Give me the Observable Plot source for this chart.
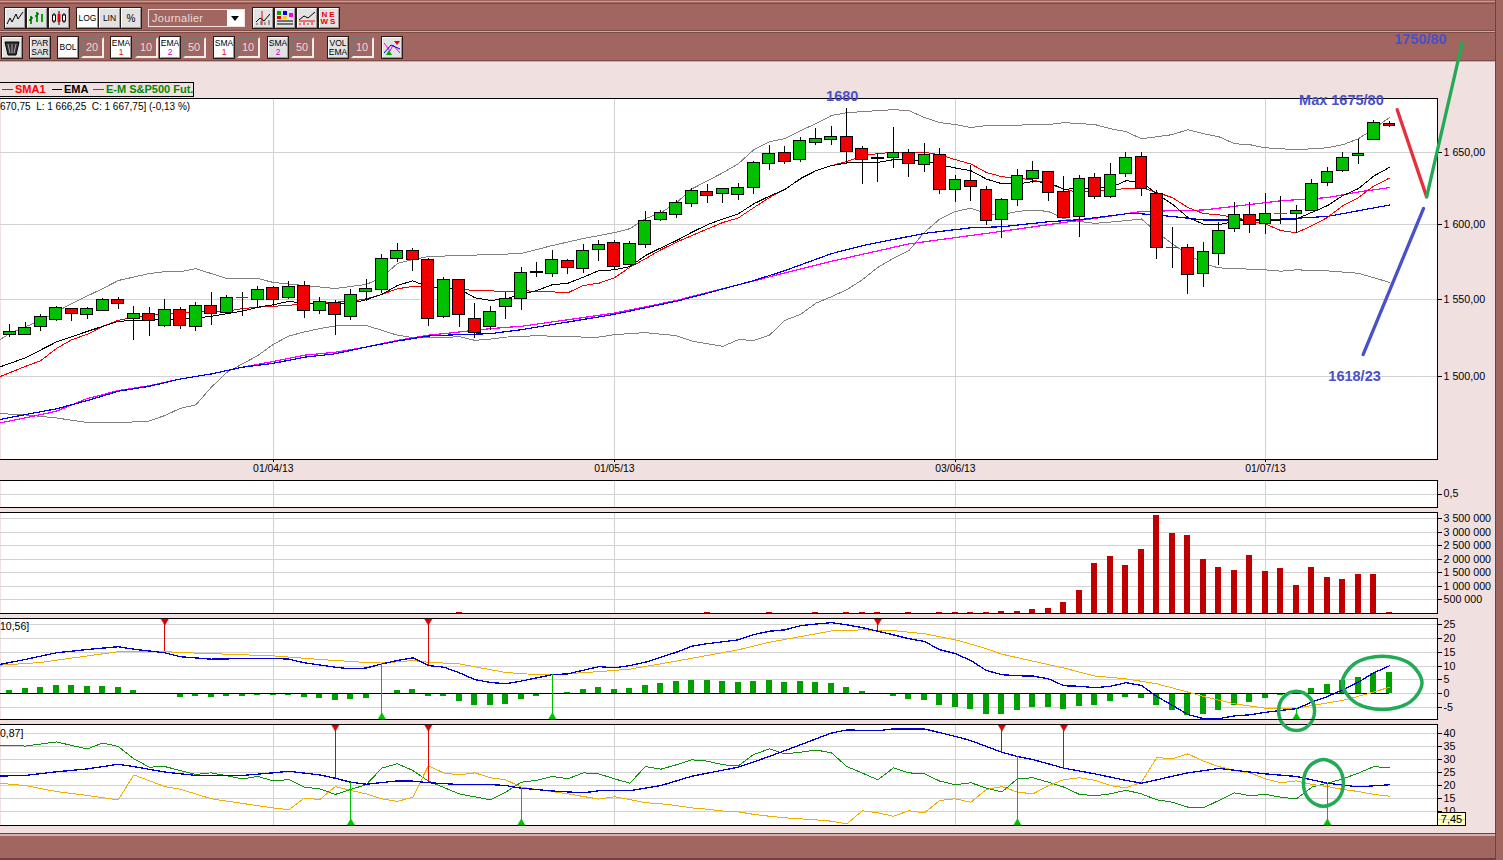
<!DOCTYPE html>
<html><head><meta charset="utf-8">
<script src="https://cdn.jsdelivr.net/npm/d3@7"></script>
<script src="https://cdn.jsdelivr.net/npm/@observablehq/plot@0.6"></script>
<style>
html,body{margin:0;padding:0;width:1503px;height:860px;overflow:hidden;background:#f0e0e0;font-family:"Liberation Sans",sans-serif}
#root{position:relative;width:1503px;height:860px;overflow:hidden}
.abs{position:absolute}
.bar{position:absolute;left:0;width:1503px;background:#a0665f}
.btn{position:absolute;box-sizing:border-box;background:#e2e2e2;border:1px solid;border-color:#fff #999 #999 #fff;outline:1px solid #2a1a18;font-size:8.5px;line-height:9px;text-align:center;color:#000;display:flex;flex-direction:column;align-items:center;justify-content:center;overflow:hidden}
.btn.w{background:#fff}
.inp{position:absolute;box-sizing:border-box;background:#a0665f;border:2px solid;border-color:#777 #eee #eee #777;color:#e6dcdc;font-size:11px;line-height:17px;padding-left:3px}
svg.plot{overflow:visible}
</style></head><body><div id="root"></div>
<script>
// ---------- Data: trading-day index i runs from -1 to 89 ----------
const dateIdx=[17,39,61,81];
const dateLabels=["01/04/13","01/05/13","03/06/13","01/07/13"];
const priceTicks=[1500,1550,1600,1650];
const oscTicks=[0.5];
const volTicks=[500000,1000000,1500000,2000000,2500000,3000000,3500000];
const macdTicks=[-5,0,5,10,15,20,25];
const dmiTicks=[10,15,20,25,30,35,40];

const opens=[1515,1526.7,1526.7,1531.8,1536.4,1543.8,1539.8,1542.5,1549.7,1537,1540.2,1532.5,1543.2,1531.8,1545.8,1541.2,1551,1549.7,1557.6,1550.8,1559,1542.5,1547.7,1538.6,1555,1556.3,1577,1582.2,1576.2,1538.4,1562.9,1537.3,1531.8,1544.9,1550.3,1567.6,1567,1575.5,1570.1,1582.9,1587.5,1572.8,1586.3,1603.1,1606.6,1613.9,1622.1,1620.8,1620,1624.9,1641.7,1649.4,1644.5,1656.4,1658.2,1660.6,1652.2,1645.2,1645.6,1649.4,1641,1648,1623.5,1629.8,1623.5,1603.1,1616.7,1631.2,1636.1,1622.3,1605.1,1631.9,1618.7,1634.7,1646.6,1620.8,1584.2,1584.2,1567,1580,1597,1606.6,1600.4,1607.3,1607.3,1609.2,1628.4,1636.8,1647.3,1658.5,1670];
const highs=[1525,1533.2,1534.9,1540.1,1545.4,1543.8,1544.5,1550.3,1551,1545,1544.5,1549.7,1544.5,1547.9,1554.5,1552.2,1554.5,1558.5,1558.5,1561.7,1561.7,1551,1549.2,1556.4,1562.9,1579.7,1587.2,1583.7,1577,1564.2,1562.9,1547,1545.4,1554.6,1570.8,1574.4,1582.2,1576.2,1586.3,1589.1,1589.1,1588.2,1608.7,1609.4,1616.2,1624.6,1627.4,1624.2,1627.9,1643.1,1654.5,1653.8,1660.6,1666.3,1667.9,1680.6,1653.8,1648.7,1667.2,1651.5,1655.7,1652.2,1633.4,1640.3,1626.3,1618,1638.1,1643.3,1636.8,1632.8,1634,1635.4,1641.7,1649.6,1649.6,1623.1,1597.9,1586.3,1587.6,1601.4,1614.8,1614.8,1621.2,1619.2,1613.3,1631.2,1639.5,1649.4,1659.2,1672,1671.4];
const lows=[1515,1525.3,1526.7,1529,1535.6,1535.6,1536.9,1542.5,1543.4,1523.2,1525.8,1531.8,1530.3,1528.6,1533,1540.2,1538.8,1544.5,1545,1549.7,1537.7,1540.1,1526.5,1536.2,1548.3,1553.6,1574.2,1568.3,1532.3,1537.7,1531.6,1524.7,1529.7,1537,1542.7,1564.6,1564.6,1566.4,1567.2,1575.2,1569,1572.4,1583.9,1602.1,1604.3,1611.6,1614.3,1614.3,1616.4,1620.8,1637,1641.4,1642.8,1654.5,1654.5,1641.7,1627.2,1628.9,1638.6,1632.3,1635.8,1620.5,1615,1615.7,1599.5,1590.7,1612,1628.4,1615.5,1603.8,1591.4,1617.1,1618,1632.3,1619.4,1576.6,1570.5,1553.4,1558,1572.6,1594.7,1594,1593.3,1600.2,1594,1608.6,1626.3,1635.8,1641.4,1657.8,1667];
const closes=[1525,1528.4,1531.5,1538.6,1544.5,1540.3,1543.8,1549.7,1546.8,1540.2,1536,1543.2,1532.5,1545.8,1540.2,1551,1551,1556.3,1549.7,1558.3,1542.5,1548.3,1539.9,1553,1556.9,1577,1582.2,1576.2,1537.3,1562.9,1539.9,1528.2,1541.8,1549.9,1567.5,1567.9,1576.2,1570.5,1582.2,1586.3,1571.5,1586.9,1602.4,1607.9,1614.6,1622.8,1619.4,1624.2,1624.9,1642.4,1648.7,1643.1,1657.8,1659.2,1660.6,1650.1,1644.5,1645.6,1649.4,1641.7,1648,1623.5,1630.5,1625.6,1602.4,1616.7,1633.3,1636.8,1621.6,1604.2,1631.2,1618.7,1634,1645.9,1624.2,1584.2,1584.2,1566.2,1581.5,1595.7,1606.6,1599.7,1607.3,1607.3,1609.2,1627.9,1636.1,1645.9,1648.7,1670.7,1668.5];
const redDoji=[15,75];

const bbUpIdx=[-1,0,2,4,6,7,9,10,11,12,14,16,17,19,21,23,24,25,26,27,31,33,35,37,39,40,41,42,43,44,45,46,47,48,49,50,51,52,53,54,57,58,59,60,61,62,63,67,68,70,71,72,73,74,75,76,77,78,79,80,81,83,85,86,87,88,89];
const bbUpVal=[1521.3,1527.7,1536.2,1547.2,1557.1,1562.4,1567,1568.3,1568.3,1570.3,1563.7,1563.7,1561.1,1559.1,1557.1,1559.8,1564.4,1573.7,1576.4,1578.4,1579.7,1580.4,1585.8,1590.5,1594.5,1597.2,1604,1608,1614.8,1624.4,1630,1635.6,1641.9,1651.7,1657.3,1659.4,1665.1,1670,1675.8,1677.9,1680,1679.3,1674.4,1670.8,1669.4,1667.3,1668.7,1669.4,1670.8,1669.4,1666.5,1664.4,1659.4,1660.8,1662.3,1665.8,1663,1660.8,1655.9,1655.2,1653,1651.7,1653,1655.2,1659.4,1666.5,1674.4];
const bbLowIdx=[-1,1,3,5,7,9,10,11,12,13,14,15,16,17,18,19,20,21,23,24,25,26,28,29,30,31,32,34,37,38,39,41,43,44,46,47,48,49,50,51,52,53,54,55,56,57,58,59,60,61,62,63,64,65,66,67,68,69,70,71,72,73,74,75,76,77,78,81,82,83,85,87,89];
const bbLowVal=[1476.7,1475.7,1473.8,1470.9,1470.7,1471.9,1475.3,1479.8,1482,1493.1,1502.6,1508,1513.4,1520.6,1526,1528.6,1530.8,1532.5,1532.8,1529.7,1526.5,1525,1525,1525.6,1523.2,1524,1525.3,1526.2,1525.3,1525.3,1526.9,1528.2,1526.2,1522.7,1519.3,1523.6,1523.2,1526.5,1536.2,1540,1547.4,1551.7,1556.3,1562.9,1571.2,1577.2,1582.4,1594.7,1603.8,1608.9,1611.1,1607.5,1606.6,1608.9,1609.9,1608.9,1604,1602.1,1600.8,1601.7,1602.6,1603.8,1594.7,1586.9,1580,1573.5,1570.8,1569.5,1568.6,1569.5,1568.8,1567.2,1561.2];
const emaIdx=[-1,1,3,5,6,7,8,10,12,13,15,16,17,18,19,21,22,23,24,25,26,27,29,30,31,32,33,34,35,36,37,38,39,40,41,42,43,44,45,46,47,48,49,50,51,52,53,54,55,56,57,58,59,60,61,62,63,64,65,66,67,68,69,70,71,72,73,74,75,76,77,78,79,80,81,82,83,84,85,86,87,88,89];
const emaVal=[1504.8,1511.9,1522.1,1529,1532.3,1535.6,1536,1536.7,1537.7,1538.8,1542.2,1544.8,1546.4,1548.6,1547.4,1547,1547.4,1549.7,1553.2,1559.1,1562.2,1558,1556.9,1551,1549.2,1550.3,1553.2,1555.8,1559.6,1560.6,1564.6,1569,1569.5,1571.7,1579,1584.2,1589.1,1594.7,1599.9,1603.8,1607.3,1614.2,1619.4,1624,1631.5,1637,1640.5,1642.4,1642.4,1642.8,1644.7,1644.7,1644,1641.2,1638.9,1637,1631.2,1628,1627.7,1629.5,1628.8,1624.2,1624.6,1624.9,1625.3,1630,1629.3,1620.8,1613.9,1604.8,1600.3,1599.9,1602.1,1603.1,1602.6,1603.1,1603.8,1608.3,1612.9,1619.8,1624.6,1633.4,1639.3];
const sma1Idx=[-1,1,2,3,4,5,6,7,8,9,13,14,15,16,18,19,21,22,23,24,25,26,27,29,30,31,32,33,34,35,36,37,38,39,40,41,42,43,44,45,46,47,48,49,50,51,52,53,54,55,56,57,59,60,61,62,63,64,65,66,67,68,69,70,71,72,73,74,75,76,77,78,79,80,81,82,83,84,85,86,87,88,89];
const sma1Val=[1498.4,1506.4,1510.1,1517.9,1523.6,1527.1,1532.3,1536.2,1538.3,1539.4,1542.2,1542.2,1543.8,1544.8,1546,1547,1548.1,1548.7,1550.3,1553.2,1556.9,1558.5,1558,1556.9,1555.6,1555.6,1554.9,1555.8,1555.1,1554.9,1554.3,1559.1,1560.6,1564.2,1571.2,1576.9,1582.9,1588,1592.5,1597,1601.4,1604.5,1611.6,1618.4,1624.2,1631.2,1637,1640.5,1643.5,1647.3,1649,1649.8,1649.8,1648.2,1644.7,1641.7,1635.8,1632.8,1631.9,1630.5,1628.1,1624.2,1621.9,1623,1623.7,1624.6,1625.3,1621.9,1618.4,1611.6,1607.5,1606.6,1604.8,1602.6,1600.3,1595.9,1594.4,1599.2,1604.8,1612.9,1618.4,1626.4,1631.9];
const ema2Idx=[-1,1,3,5,7,9,11,13,15,17,19,21,23,25,27,29,31,33,39,43,45,48,50,53,55,59,62,64,67,69,72,73,75,77,81,85,87,89];
const ema2Val=[1472.1,1475.9,1479.5,1484.7,1490.6,1493.7,1498.4,1501.6,1505.9,1508.4,1512.3,1514.5,1518.9,1522.7,1526,1526.9,1527.5,1530.1,1540.1,1548.7,1554,1562.4,1569,1580.3,1585.7,1594,1597.8,1598.5,1601.9,1603.3,1607.3,1607.3,1605.5,1603.1,1603.1,1605.5,1609.4,1613.3];
const sma2Idx=[-1,1,3,5,7,9,11,13,15,17,19,21,23,25,27,29,31,33,39,43,45,48,53,58,64,68,70,73,77,82,85,87,89];
const sma2Val=[1470,1473.8,1478,1486,1491,1494.1,1498.4,1501.6,1505.9,1509.6,1513.6,1515.5,1518.9,1523.2,1526.5,1528.6,1530.8,1532.3,1540.9,1549.2,1554.5,1562.2,1575.2,1586.9,1595.4,1601.4,1604.2,1608.9,1609.9,1616.2,1618.4,1622.3,1625.3];

const volIdx=[29,45,49,52,54,55,56,58,60,61,62,63,64,65,66,67,68,69,70,71,72,73,74,75,76,77,78,79,80,81,82,83,84,85,86,87,88,89];
const volVal=[40000,30000,30000,30000,40000,40000,40000,40000,40000,40000,40000,40000,85000,85000,160000,200000,420000,860000,1860000,2120000,1790000,2380000,3640000,2970000,2870000,2010000,1710000,1600000,2160000,1570000,1680000,1050000,1710000,1340000,1270000,1450000,1450000,50000];

const histVal=[1.2,1.9,2.3,3,3,2.65,2.65,2.3,1.2,0,0,-1.3,-1,-1.3,-1,-1,-0.6,-0.6,-0.5,-1.3,-1.7,-2.4,-2,-1.7,0,1.2,1.6,-1,-1,-2.8,-4.2,-4.2,-3.9,-2,-1,0,0.5,1.6,2.3,1.6,1.9,3,3.7,4.5,4.8,4.8,4.5,4.1,4.5,4.8,4.1,4.5,4.1,3.7,2.3,0.8,0,-1,-2,-2.4,-4.2,-4.9,-5.6,-7.5,-7.5,-6,-4.9,-4.9,-5.6,-4.6,-4.2,-2.8,-1.3,-1.7,-4.2,-6,-7.8,-7.5,-6,-4.2,-3.1,-1.7,-0.6,0,1.9,3.4,4.8,5.9,7.3,7.7];
const macdIdx=[-1,1,3,5,7,8,10,11,13,15,17,18,19,21,22,23,24,25,26,27,28,29,30,31,32,33,35,36,38,39,40,41,43,44,45,47,48,49,50,51,52,53,54,55,56,57,58,59,60,61,62,63,64,65,66,67,68,69,70,71,72,73,74,75,76,77,78,79,80,81,82,83,84,85,86,87,88,89];
const macdVal=[10.2,12.4,14.8,16,17,16.1,14.8,13.4,12.5,12.7,12.8,12.5,11.2,9.6,9,9.3,10.8,12,13,10.2,9.6,7.6,5.1,4.1,3.6,4.6,6.9,7.2,9.8,9.4,10.2,11.4,15,17.2,18.1,19.5,21.4,22.6,23.1,24.6,25.2,25.7,24.9,23.9,22.6,21.3,19.9,18.9,15.9,14.5,12,8.4,6.9,6.5,6.4,5.4,2.9,2.7,2.2,2.7,4,3,-1,-4.2,-7.5,-9,-9,-8,-7.6,-6.7,-6,-5.4,-3,-1,1.4,4.2,7.6,10.1];
const signalIdx=[-1,2,4,7,10,12,17,20,23,24,26,27,29,31,32,34,35,38,40,43,47,49,53,55,57,59,61,63,64,68,70,72,74,76,77,79,81,83,86,88,89];
const signalVal=[10.2,11.3,12.9,15.2,15.2,14.7,13.7,12.4,11.3,11.1,12,11.4,10.8,8.7,7.7,6.9,6.9,8,8.9,11.8,15.9,18.6,22.7,23.1,22.8,21.7,19.5,16.3,14.3,9.3,6.4,5.4,3.6,0.6,-1,-3.6,-5.2,-5.2,-2.4,0.6,2.4];
const macdSellIdx=[10,27,56];
const macdSellVal=[15.1,10.2,22.9];
const macdBuyIdx=[24,35,83];
const macdBuyVal=[11.1,6.9,-5.2];

const diPlusIdx=[-1,1,3,5,6,7,8,9,10,12,13,15,16,17,18,19,20,21,22,23,24,25,26,27,29,31,32,33,34,35,36,37,38,39,40,41,42,43,44,45,46,47,48,49,50,51,52,53,54,55,56,57,58,59,60,61,62,63,64,65,66,67,68,69,70,71,72,73,74,75,76,77,78,79,80,81,82,83,84,85,86,87,88,89];
const diPlusVal=[35.8,35.3,36.9,34.2,36.5,35.1,30.4,27.2,27.4,24.4,25,22.7,23.6,21.9,22.4,19.5,18.8,16.7,18.6,20.5,26.8,28.5,25.9,21.8,16.9,14.6,17.6,21.4,22.1,23.6,22.7,25,24.6,22.7,21,27.4,26.4,28.1,30,29.5,28.1,27.7,32.1,34.2,32.3,32.9,33.8,32.7,27.4,24.9,22.3,26.9,25,24.6,21.8,20.4,21.2,19.1,17.6,22.7,23.1,21.4,19.5,16.7,16.2,16.9,18.3,16.9,14.6,13.7,11.8,11.5,14.4,17.3,16.2,16.7,15.6,15,19.5,21,22.7,24.9,27.4,26.9];
const diMinusIdx=[-1,1,3,5,7,8,10,11,13,14,17,18,19,20,21,22,23,24,25,26,27,28,29,30,31,32,33,34,35,36,37,38,39,40,41,42,43,44,45,46,47,48,49,50,51,52,53,54,55,56,57,58,59,60,61,62,63,64,65,66,67,68,69,70,71,72,73,74,75,76,77,78,79,80,81,82,83,84,85,86,87,88,89];
const diMinusVal=[21.2,20.1,17.8,16.3,14.6,24.2,19.7,18.7,15,14.1,11.5,10.8,15.3,14.7,19.7,18.2,16.9,15,14,15.6,27.7,24.9,24.2,25,23.1,22.3,19.5,18.6,17.8,16.9,15.9,14.9,15.8,14.7,13.5,13.1,12.4,11.5,11,10.3,10,9,8.3,7.7,7.3,6.9,6.4,5.4,10.4,9.6,8.3,10.4,9.6,14.4,15,13.7,18.6,19.7,17.6,16.9,20.1,22.4,23.1,22.1,20.1,19.2,21.4,30.9,30.4,32.3,29.5,27.4,25.9,25,22.7,21.2,21.9,20.5,19.7,18.6,17.8,16.7,16];
const adxIdx=[-1,1,3,5,7,8,10,12,15,17,18,20,21,22,23,25,26,27,29,31,32,33,35,37,38,40,42,44,47,49,53,54,56,57,59,61,62,64,65,66,68,70,72,73,76,78,81,83,85,87,89];
const adxVal=[23.7,24,25.4,26.5,28.3,27.4,25.3,24,24,25,25.6,24.2,22.9,21.4,20.6,21.9,21.8,21.2,20.5,20.5,20.1,19.1,18,17.3,18.1,18.1,20.1,23.7,27.2,31.3,40.3,41.5,41.2,41.9,41.9,39,37.4,32.9,31.3,30.1,26.8,24.6,22.1,21,25,26.7,24.6,23.6,21,19.6,20.4];
const dmiSellIdx=[21,27,64,68];
const dmiSellVal=[22.9,21.2,32.9,26.8];
const dmiBuyIdx=[22,33,65,85];
const dmiBuyVal=[21.4,19.1,31.3,21];

// hand-drawn forecast strokes and their labels, read in chart units
const redStrokeIdx=[89.5,91.4], redStrokeVal=[1680,1618.9];
const greenStrokeIdx=[91.4,93.7], greenStrokeVal=[1618.9,1728.8];
const blueStrokeIdx=[87.3,91.2], blueStrokeVal=[1514,1611];
const noteTexts=["1680","Max 1675/80","1618/23","1750/80"];
const noteIdx=[53.7,85.9,86.75,91];
const noteVal=[1689.3,1686.4,1500,1730.7];
// hand-drawn ellipses
const ring1Idx=[81.85,82.18,83,83.82,84.17,83.82,83,82.18], ring1Val=[-6.2,-1.15,0.94,-1.15,-6.2,-11.25,-13.3,-11.25];
const ring2Idx=[85.96,86.72,88.54,90.36,91.1,90.36,88.54,86.72], ring2Val=[3.95,10.75,13.6,10.75,3.95,-2.85,-5.7,-2.85];
const ring3Idx=[83.45,83.83,84.74,85.65,86.03,85.65,84.74,83.83], ring3Val=[21.1,27.5,30.1,27.5,21.1,14.7,12.1,14.7];

// ---------- Colours / helpers ----------
const GREEN="#00c000",RED="#f00000",GRID="#d2d2d2",HIST="#00a000",ORANGE="#f0b000",DKBLUE="#0000d0",NOTE="#4a50c8",RING="#22aa55";
const toXY=(ix,vs)=>ix.map((i,k)=>({i,v:vs[k]}));
const XDOM=[-0.6,92.1];
const root=document.getElementById("root");
const W=1503,MR=66;
const candles=opens.map((o,k)=>({i:k-1,o,h:highs[k],l:lows[k],c:closes[k]}));
const dojis=candles.filter(d=>d.o===d.c);
const bodies=candles.filter(d=>d.o!==d.c);

function edges(){return [Plot.frame({anchor:"top",stroke:"#000"}),Plot.frame({anchor:"bottom",stroke:"#000"}),Plot.frame({anchor:"right",stroke:"#000"})];}
function under(yTicks){return [Plot.frame({fill:"#fff",stroke:"none"}),Plot.ruleY(yTicks,{stroke:GRID}),Plot.ruleX(dateIdx,{stroke:GRID})];}
function yAxis(ticks,fmt){return Plot.axisY({anchor:"right",ticks,tickFormat:fmt,tickSize:4,tickPadding:2,label:null,stroke:"#000"});}
function place(svg,top){svg.style.position="absolute";svg.style.left="0";svg.style.top=top+"px";root.appendChild(svg);}
function panel(top,h,dom,ticks,fmt,marks){
  const svg=Plot.plot({width:W,height:h,marginTop:0,marginBottom:0,marginLeft:0,marginRight:MR,
    style:{background:"transparent",fontFamily:"Liberation Sans",fontSize:"10.7px",color:"#000",shapeRendering:"crispEdges",overflow:"visible"},
    x:{domain:XDOM,axis:null},y:{domain:dom,axis:null},
    marks:[...under(ticks),...marks,...edges(),yAxis(ticks,fmt)]});
  place(svg,top);
}
const line=(ix,vs,stroke,sw=1)=>Plot.line(toXY(ix,vs),{x:"i",y:"v",stroke,strokeWidth:sw});
const ring=(ix,vs)=>Plot.line(toXY(ix,vs),{x:"i",y:"v",stroke:RING,strokeWidth:3.5,curve:"catmull-rom-closed",shapeRendering:"geometricPrecision"});
function signals(ix,vs,edge,color,down){
  const d=toXY(ix,vs);
  return [Plot.ruleX(d,{x:"i",y1:edge,y2:"v",stroke:color,strokeWidth:1}),
    Plot.dot(d,{x:"i",y:()=>edge,symbol:"triangle",r:2.8,fill:color,stroke:color,strokeWidth:.5,rotate:down?180:0,dy:down?2.5:-2.5,shapeRendering:"geometricPrecision"})];
}
const bars=(rows,color,hw)=>Plot.rect(rows,{x1:d=>d.i-hw,x2:d=>d.i+hw,y1:0,y2:"v",fill:color});

// ---------- Toolbars (behind the chart so strokes pass over them) ----------
function bar(top,h,bg){const e=document.createElement("div");e.className="bar";e.style.top=top+"px";e.style.height=h+"px";e.style.background=bg;root.appendChild(e);}
bar(0,62,"#a0665f");bar(1,1,"#c79a94");bar(3,1,"#7d4c46");bar(30,1,"#7d4c46");bar(31,1,"#d2a8a2");bar(32,1,"#7d4c46");bar(60,1,"#7d4c46");bar(61,1,"#d2a8a2");
bar(833,27,"#a0665f");bar(833,1,"#6d423c");bar(834,2,"#d9b0aa");bar(858,2,"#6d423c");
const side=document.createElement("div");side.className="abs";side.style.cssText="left:1495px;top:0;width:8px;height:860px;background:#a0665f;border-left:1px solid #6d423c";root.appendChild(side);

function btn(x,y,w,h,html,cls=""){const e=document.createElement("div");e.className="btn "+cls;e.style.cssText=`left:${x}px;top:${y}px;width:${w}px;height:${h}px`;e.innerHTML=html;root.appendChild(e);}
function inp(x,y,w,t){const e=document.createElement("div");e.className="inp";e.style.cssText=`left:${x}px;top:${y}px;width:${w}px;height:21px`;e.textContent=t;root.appendChild(e);}
const ic=(b)=>`<svg width="18" height="16" viewBox="0 0 18 16">${b}</svg>`;
btn(5,8,20,20,ic('<polyline points="1,14 4,8 6,12 10,4 12,9 17,2" fill="none" stroke="#000"/>'));
btn(27,8,20,20,ic('<path d="M3,6V14M9,2V12M14,4V12" stroke="#0a0" stroke-width="2"/><path d="M1,10H3M3,8H5M7,6H9M9,4H11" stroke="#000"/>'));
btn(49,8,20,20,ic('<path d="M4,3V13M9,1V15M14,3V13" stroke="#000"/><rect x="2.5" y="5" width="3" height="6" fill="#fff" stroke="#000"/><rect x="7.5" y="4" width="3" height="8" fill="#e00"/><rect x="12.5" y="5" width="3" height="6" fill="#fff" stroke="#000"/>'));
btn(77,8,21,20,"LOG","w");btn(99,8,21,20,"LIN");btn(121,8,20,20,'<span style="font-size:10px">%</span>');
const sel=document.createElement("div");sel.className="abs";sel.style.cssText="left:148px;top:9px;width:97px;height:18px;box-sizing:border-box;border:1px solid #f0e0e0;background:#a0665f;color:#e8dcdc;font-size:11px;line-height:16px;padding-left:3px;letter-spacing:.3px";
sel.innerHTML='Journalier<div style="position:absolute;right:0;top:0;width:17px;height:16px;background:#fff"><div style="position:absolute;left:4px;top:6px;width:0;height:0;border:4px solid transparent;border-top:5px solid #000"></div></div>';root.appendChild(sel);
btn(253,8,20,20,ic('<path d="M8,1V15" stroke="#e00"/><path d="M2,12L6,8L10,11L16,4" stroke="#000" fill="none"/><path d="M3,15V13M7,15V11M11,15V12M15,15V10" stroke="#555"/>'));
btn(275,8,20,20,ic('<rect x="1" y="1" width="4" height="4" fill="#0a0"/><rect x="7" y="1" width="4" height="4" fill="#00e"/><rect x="1" y="6" width="4" height="3" fill="#e00"/><rect x="13" y="3" width="4" height="4" fill="#e0e"/><rect x="7" y="6" width="4" height="3" fill="#fc0"/><path d="M1,11H17M1,14H17" stroke="#000"/>'));
btn(297,8,20,20,ic('<path d="M1,10L6,6L10,8L17,2" stroke="#000" fill="none"/><path d="M1,11H17M2,15V13M6,15V12M10,15V13M14,15V12" stroke="#e00"/>'));
btn(319,8,20,20,'<span style="color:#e00;font-size:8px;line-height:7.5px;font-weight:bold;letter-spacing:2px">NE<br>WS</span>');

btn(2,37,20,21,ic('<path d="M2,2H16L13,15H5Z" fill="#333" stroke="#000"/><path d="M5,4L7,13M9,4V13M13,4L11,13" stroke="#aaa"/>'));
btn(30,37,20,21,"PAR<br>SAR");btn(58,37,20,21,"BOL","w");inp(81,37,23,"20");
btn(111,37,20,21,'EMA<br><span style="color:#e00">1</span>',"w");inp(135,37,23,"10");
btn(160,37,20,21,'EMA<br><span style="color:#c0c">2</span>',"w");inp(183,37,23,"50");
btn(214,37,20,21,'SMA<br><span style="color:#e00">1</span>',"w");inp(237,37,23,"10");
btn(268,37,20,21,'SMA<br><span style="color:#c0c">2</span>');inp(291,37,23,"50");
btn(328,37,20,21,"VOL<br>EMA");inp(351,37,23,"10");
btn(382,37,20,21,ic('<path d="M1,3L7,11L10,5L17,13" stroke="#e0e" fill="none"/><path d="M1,13L8,5L17,9" stroke="#00d" fill="none"/><path d="M11,1H17L14,5Z" fill="#e00"/><path d="M3,15H9L6,10Z" fill="#0a0"/>'));

// ---------- Panels, lowest first so a ring can overlap the one below ----------
panel(724,101,[4.73,43.6],dmiTicks,d=>d,[
  line(diPlusIdx,diPlusVal,"#109010"),
  line(diMinusIdx,diMinusVal,ORANGE),
  line(adxIdx,adxVal,DKBLUE,1.3),
  ...signals(dmiSellIdx,dmiSellVal,43.6,"#e00000",true),
  ...signals(dmiBuyIdx,dmiBuyVal,4.73,"#00c000",false),
  ring(ring3Idx,ring3Val)
]);
panel(618,101,[-9.3,27.2],macdTicks,d=>d,[
  bars(histVal.map((v,k)=>({i:k,v})),HIST,0.19),
  Plot.ruleY([0],{x1:XDOM[0],x2:89,stroke:"#000",strokeWidth:1}),
  line(signalIdx,signalVal,ORANGE),
  line(macdIdx,macdVal,DKBLUE,1.3),
  ...signals(macdSellIdx,macdSellVal,27.2,"#e00000",true),
  ...signals(macdBuyIdx,macdBuyVal,-9.3,"#00c000",false),
  ring(ring1Idx,ring1Val),
  ring(ring2Idx,ring2Val)
]);
panel(512,101,[0,3740000],volTicks,d=>d3.format(",")(d).replace(/,/g," "),[
  bars(toXY(volIdx,volVal),"#c00000",0.19)
]);
panel(480,27,[0,1],oscTicks,d=>String(d).replace(".",","),[]);

const priceFmt=d=>d3.format(",.2f")(d).replace(",","§").replace(".",",").replace("§"," ");
const priceSvg=Plot.plot({width:W,height:480,marginTop:98,marginBottom:21,marginLeft:0,marginRight:MR,
  style:{background:"transparent",fontFamily:"Liberation Sans",fontSize:"10.7px",color:"#000",shapeRendering:"crispEdges",overflow:"visible"},
  x:{domain:XDOM,axis:null},y:{type:"log",domain:[1448,1688],axis:null},
  marks:[
    ...under(priceTicks),
    line(bbUpIdx,bbUpVal,"#808080"),
    line(bbLowIdx,bbLowVal,"#808080"),
    line(sma2Idx,sma2Val,"#ff00ff",1.2),
    line(ema2Idx,ema2Val,"#0000e6",1.2),
    line(sma1Idx,sma1Val,"#f00000"),
    line(emaIdx,emaVal,"#000"),
    Plot.ruleX(candles,{x:"i",y1:"l",y2:"h",stroke:"#000",strokeWidth:1}),
    Plot.ruleY(dojis,{x1:d=>d.i-0.4,x2:d=>d.i+0.4,y:"c",stroke:d=>redDoji.includes(d.i)?RED:"#00a000"}),
    Plot.rect(bodies,{x1:d=>d.i-0.38,x2:d=>d.i+0.38,y1:"o",y2:"c",fill:d=>d.c>d.o?GREEN:RED,stroke:"#000",strokeWidth:1}),
    ...edges(),
    yAxis(priceTicks,priceFmt),
    Plot.axisX({ticks:dateIdx,tickFormat:i=>dateLabels[dateIdx.indexOf(i)],tickSize:3,tickPadding:2,label:null,anchor:"bottom",fontSize:10.4}),
    Plot.line(toXY(redStrokeIdx,redStrokeVal),{x:"i",y:"v",stroke:"#e8303a",strokeWidth:3.3,shapeRendering:"geometricPrecision"}),
    Plot.line(toXY(greenStrokeIdx,greenStrokeVal),{x:"i",y:"v",stroke:"#22aa55",strokeWidth:3.3,shapeRendering:"geometricPrecision"}),
    Plot.line(toXY(blueStrokeIdx,blueStrokeVal),{x:"i",y:"v",stroke:NOTE,strokeWidth:3.3,shapeRendering:"geometricPrecision"}),
    Plot.text(noteTexts,{x:(d,k)=>noteIdx[k],y:(d,k)=>noteVal[k],text:d=>d,fill:NOTE,fontSize:14.5,fontWeight:"bold",fontFamily:"Liberation Sans",shapeRendering:"geometricPrecision"})
  ]});
place(priceSvg,0);

// ---------- Small captions ----------
function lab(css,html){const e=document.createElement("div");e.className="abs";e.style.cssText=css;e.innerHTML=html;root.appendChild(e);}
lab("left:-1px;top:82px;width:195px;height:15px;box-sizing:border-box;border:1px solid #000;background:#f0e0e0;white-space:nowrap;font-size:11px;font-weight:bold;line-height:13px",
 '<span style="position:absolute;left:2px;top:6px;width:11px;height:1px;background:#f00"></span><span style="position:absolute;left:15px;color:#f00">SMA1</span>'+
 '<span style="position:absolute;left:52px;top:6px;width:10px;height:1px;background:#000"></span><span style="position:absolute;left:64px;color:#000">EMA</span>'+
 '<span style="position:absolute;left:93px;top:6px;width:11px;height:1px;background:#080"></span><span style="position:absolute;left:106px;color:#080">E-M S&amp;P500 Fut.</span>');
lab("left:0;top:100px;font-size:10px;line-height:13px;white-space:pre;color:#000","670,75  L: 1 666,25  C: 1 667,75] (-0,13 %)");
lab("left:0;top:620px;font-size:10.5px;line-height:13px;color:#000","10,56]");
lab("left:0;top:727px;font-size:10.5px;line-height:13px;color:#000","0,87]");
lab("left:1438px;top:812px;width:28px;height:14px;box-sizing:border-box;border:1px solid #000;border-left:none;background:#ffffc8;font-size:11px;line-height:12px;text-align:center;color:#000",'<span style="position:absolute;left:0;right:0;top:6px;height:1px;background:#c8c8f0"></span><span style="position:relative">7,45</span>');
</script></body></html>
